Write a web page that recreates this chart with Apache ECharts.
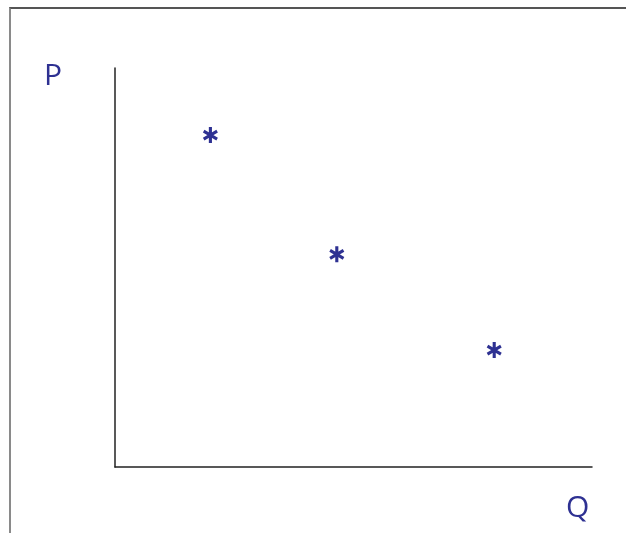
<!DOCTYPE html>
<html>
<head>
<meta charset="utf-8">
<script src="https://cdn.jsdelivr.net/npm/echarts@6/dist/echarts.min.js"></script>
<style>
  html, body { margin: 0; padding: 0; background: #fff; overflow: hidden; }
  #frame { position: absolute; left: 9px; top: 7px; width: 640px; height: 540px;
           border-top: 2px solid #555; border-left: 2px solid #8a8a8a; }
  #main { position: absolute; left: 0; top: 0; width: 626px; height: 533px; }
</style>
</head>
<body>
<div id="frame"></div>
<div id="main"></div>
<script>
// quantity (x) and price (y) of the three observed points
var qValues = [2, 4.65, 7.95];
var pValues = [8.32, 5.33, 2.93];
var axisNames = ['Q', 'P'];

var ink = '#2E3192';
var star = 'path://M0.8 0 L1.2 0 L1.2 2 L0.8 2 Z M1.766 0.327 L1.966 0.673 L0.234 1.673 L0.034 1.327 Z M0.034 0.673 L0.234 0.327 L1.966 1.327 L1.766 1.673 Z';

var points = [];
for (var i = 0; i < qValues.length; i++) {
    points.push([qValues[i], pValues[i]]);
}

var myChart = echarts.init(document.getElementById('main'));
var option = {
    animation: false,
    // Q label sits below the end of the axis, so it goes in a title box
    title: {
        text: axisNames[0], left: 566, top: 493, padding: 0,
        textStyle: { color: ink, fontSize: 30, fontWeight: 'normal', fontFamily: 'Open Sans', lineHeight: 30 }
    },
    grid: { left: 115, top: 68, right: 34, bottom: 66 },
    xAxis: {
        type: 'value', min: 0, max: 10,
        axisLine: { show: true, lineStyle: { color: '#222', width: 1.5 } },
        axisTick: { show: false }, axisLabel: { show: false }, splitLine: { show: false }
    },
    yAxis: {
        type: 'value', min: 0, max: 10,
        name: axisNames[1], nameLocation: 'end', nameGap: -8,
        nameTextStyle: { color: ink, fontSize: 30, fontFamily: 'Open Sans',
                         align: 'center', verticalAlign: 'middle', padding: [0, 124, 0, 0] },
        axisLine: { show: true, lineStyle: { color: '#222', width: 1.5 } },
        axisTick: { show: false }, axisLabel: { show: false }, splitLine: { show: false }
    },
    series: [{
        type: 'scatter',
        data: points,
        symbol: star,
        symbolSize: [15, 16],
        itemStyle: { color: ink, opacity: 1 }
    }]
};
myChart.setOption(option);
</script>
</body>
</html>
